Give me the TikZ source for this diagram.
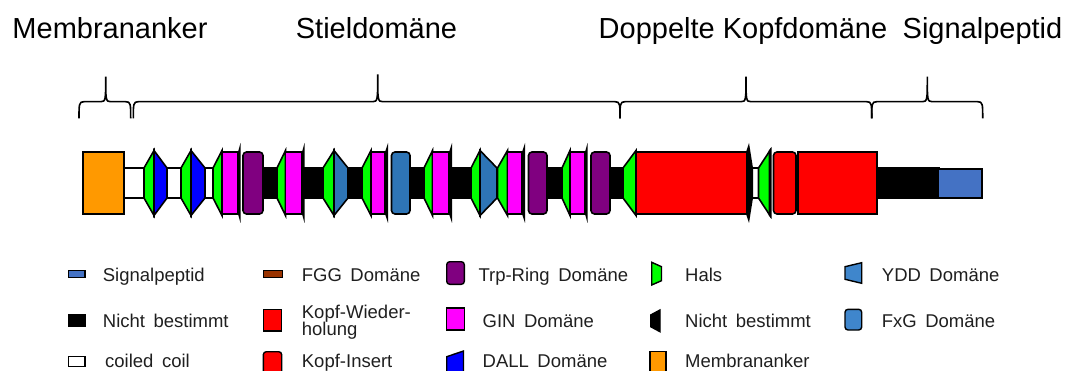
\documentclass[tikz,border=0pt]{standalone}
\usepackage{fontspec}
\setmainfont{Liberation Sans}
\definecolor{cAnchor}{HTML}{FF9900}
\definecolor{cHals}{HTML}{00FF00}
\definecolor{cDall}{HTML}{0000FF}
\definecolor{cGin}{HTML}{FF00FF}
\definecolor{cTrp}{HTML}{800080}
\definecolor{cKopf}{HTML}{FF0000}
\definecolor{cYdd}{HTML}{2E75B6}
\definecolor{cFxg}{HTML}{3F86CC}
\definecolor{cSig}{HTML}{4472C4}
\definecolor{cFgg}{HTML}{993300}
\definecolor{cText}{HTML}{1F1F1F}

% legend font with slightly wider word spaces
\newcommand\dmLegFont{\fontsize{18.5}{21}\selectfont\spaceskip=8.5pt plus 1pt\relax}
% domain pieces along the protein track (x from, x to)
\newcommand\dmCoil[2]{\draw[part,fill=white] (#1,168) rectangle (#2,198);}
\newcommand\dmGap[2]{\draw[part,fill=black] (#1,168) rectangle (#2,198);}
\newcommand\dmHals[2]{\draw[part,fill=cHals] (#1,168) -- (#2,150.5) -- (#2,215.5) -- (#1,198) -- cycle;}
\newcommand\dmDall[2]{\draw[part,fill=cDall] (#1,150.5) -- (#2,168) -- (#2,198) -- (#1,215.5) -- cycle;}
\newcommand\dmYdd[2]{\draw[part,fill=cYdd] (#1,150.5) -- (#2,168) -- (#2,198) -- (#1,215.5) -- cycle;}
\newcommand\dmGin[2]{\draw[part,fill=cGin] (#1,152) rectangle (#2,214);}
\newcommand\dmTrp[2]{\draw[part,fill=cTrp,rounded corners=3.5pt] (#1,152) rectangle (#2,214);}
\newcommand\dmFxg[2]{\draw[part,fill=cYdd,rounded corners=3.5pt] (#1,152) rectangle (#2,214);}
\newcommand\dmNb[2]{\fill[black] (#1,152) -- (#2,143) -- (#2,223) -- (#1,214) -- cycle;}
% curly brace: left end, tip, right end, tip height
\newcommand\dmBrace[4]{\draw[brace]
  (#1,118.5) .. controls (#1,104) and (#1,101.7) .. (#1+5,101.7)
  -- (#2-5,101.7) .. controls (#2,101.7) and (#2,100) .. (#2,#4)
  .. controls (#2,100) and (#2,101.7) .. (#2+5,101.7)
  -- (#3-5,101.7) .. controls (#3,101.7) and (#3,104) .. (#3,118.5);}

\begin{document}
\begin{tikzpicture}[x=1pt,y=-1pt,
  part/.style={draw=black,line width=1.6pt,line join=miter},
  brace/.style={draw=black,line width=1.6pt},
  title/.style={anchor=base,inner sep=0pt,text=black,font=\fontsize{29}{33}\selectfont},
  legtext/.style={anchor=base west,inner sep=0pt,text=cText,font=\dmLegFont},
  icon/.style={draw=black,line width=1.4pt}]
\useasboundingbox (0,0) rectangle (1067,371);

% section titles
\node[title] (tMem) at (110,39) {Membrananker};
\node[title] (tStiel) at (376.5,39) {Stieldomäne};
\node[title] (tKopf) at (743,39) {Doppelte Kopfdomäne};
\node[title] (tSig) at (982.5,39) {Signalpeptid};

% braces
\dmBrace{79}{105.7}{130.7}{76.7}
\dmBrace{133.3}{377.7}{620}{74.5}
\dmBrace{620}{746}{871.7}{76.7}
\dmBrace{871.7}{927.3}{982.7}{76.7}

% linker bars
\dmCoil{124}{144}
\dmCoil{167}{181}
\dmCoil{205}{213}
\dmGap{262}{278}
\dmGap{304}{324}
\dmGap{347}{363}
\dmGap{409}{425}
\dmGap{451}{472}
\dmGap{546}{563}
\dmGap{609}{624}
\dmCoil{752}{759}
\dmGap{876}{939}

% membrane anchor
\draw[part,fill=cAnchor] (83,152) rectangle (124,214);
% stalk
\dmHals{144}{154}\dmDall{154}{167}
\dmHals{181}{191}\dmDall{191}{205}
\dmHals{213}{222}\dmGin{222}{238}\dmNb{238}{240.5}
\dmTrp{243}{263}
\dmHals{277}{285.5}\dmGin{285.5}{302}\dmNb{302}{304.5}
\dmHals{323}{334}\dmYdd{334}{348}
\dmHals{362}{371}\dmGin{371}{385}\dmNb{385}{388}
\dmFxg{391.5}{410}
\dmHals{424}{432.5}\dmGin{432.5}{449}\dmNb{449}{452}
\dmHals{471}{480}\dmYdd{480}{497}
\dmHals{497.5}{507.5}\dmGin{507.5}{522}\dmNb{522}{525}
\dmTrp{528.5}{547}
\dmHals{562}{570}\dmGin{570}{585}\dmNb{585}{587.5}
\dmTrp{591}{610}
% double head
\dmHals{623}{636}
\draw[part,fill=cKopf] (636,152) rectangle (747,214);
\fill[black] (746,152) -- (749,143) -- (753,168) -- (753,198) -- (749,223) -- (746,214) -- cycle;
\dmHals{758.5}{770}
\fill[black] (768.5,151) -- (771.5,147) -- (771.5,219) -- (768.5,215) -- cycle;
\draw[part,fill=cKopf,rounded corners=3.5pt] (773.5,152) rectangle (796,214);
\draw[part,fill=cKopf] (798,152) rectangle (877,214);
% signal peptide
\draw[part,fill=cSig,line width=1.4pt] (938,169) rectangle (982,198);

% legend, column 1
\draw[icon,fill=cSig] (68.3,270.7) rectangle (85,277.3);
\node[legtext] (l1) at (102.7,281.5) {Signalpeptid};
\draw[icon,fill=black] (68.3,315) rectangle (85,326);
\node[legtext] (l2) at (102.7,327) {Nicht bestimmt};
\draw[icon,fill=white] (68.3,356.7) rectangle (85,366.7);
\node[legtext] (l3) at (105,367.5) {coiled coil};
% column 2
\draw[icon,fill=cFgg] (263.3,270.7) rectangle (282.7,277.3);
\node[legtext] (l4) at (301.7,281.5) {FGG Domäne};
\draw[icon,fill=cKopf] (263.3,309.3) rectangle (281.7,331);
\node[legtext] (l5a) at (301.7,318.3) {Kopf-Wieder-};
\node[legtext] (l5b) at (301.7,335) {holung};
\draw[icon,fill=cKopf,rounded corners=3pt] (263.3,351.7) rectangle (281.7,380);
\node[legtext] (l6) at (301.7,367.5) {Kopf-Insert};
% column 3
\draw[icon,fill=cTrp,rounded corners=3pt] (446.7,261.7) rectangle (464.3,284.3);
\node[legtext] (l7) at (478.3,281.5) {Trp-Ring Domäne};
\draw[icon,fill=cGin] (446.7,308) rectangle (464.3,330);
\node[legtext] (l8) at (482.5,327) {GIN Domäne};
\draw[icon,fill=cDall] (446.7,356.7) -- (463.5,351) -- (463.5,385) -- (446.7,380) -- cycle;
\node[legtext] (l9) at (482.5,367.5) {DALL Domäne};
% column 4
\draw[icon,fill=cHals] (651.7,262.3) -- (661.5,266.7) -- (661.5,280.7) -- (651.7,285) -- cycle;
\node[legtext] (l10) at (685,281.5) {Hals};
\draw[icon,fill=black] (650.7,315) -- (660,310) -- (660,331.7) -- (650.7,326.7) -- cycle;
\node[legtext] (l11) at (685,327) {Nicht bestimmt};
\draw[icon,fill=cAnchor] (650,351.7) rectangle (666,385);
\node[legtext] (l12) at (685,367.5) {Membrananker};
% column 5
\draw[icon,fill=cFxg] (845,266.7) -- (861.7,262.7) -- (861.7,283.3) -- (845,279.3) -- cycle;
\node[legtext] (l13) at (881.7,281.5) {YDD Domäne};
\draw[icon,fill=cFxg,rounded corners=3pt] (845,309.3) rectangle (861.7,330);
\node[legtext] (l14) at (881.7,327) {FxG Domäne};
\end{tikzpicture}
\end{document}
